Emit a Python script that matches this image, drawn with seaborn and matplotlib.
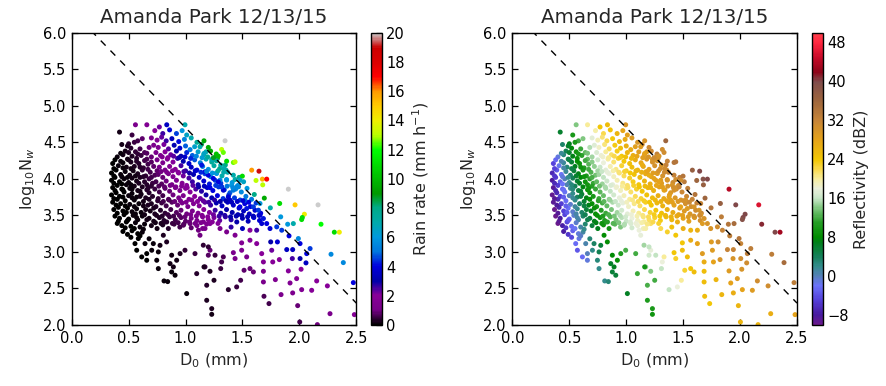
import numpy as np
import pandas as pd
import matplotlib
matplotlib.use("Agg")
import matplotlib.pyplot as plt
import seaborn as sns
from matplotlib.colors import LinearSegmentedColormap, Normalize
from matplotlib.cm import ScalarMappable

# ---------------- data ----------------
d0 = [
    # dense small-drop cluster
    0.42, 0.44, 0.53, 0.50, 0.58, 0.62,
    0.47, 0.52, 0.56, 0.60, 0.64, 0.68,
    0.40, 0.45, 0.49, 0.53, 0.57, 0.61, 0.66, 0.70,
    0.36, 0.41, 0.45, 0.48, 0.52, 0.55, 0.59, 0.63, 0.67, 0.72,
    0.35, 0.39, 0.43, 0.47, 0.51, 0.54, 0.58, 0.62, 0.65, 0.69, 0.73,
    0.35, 0.38, 0.42, 0.46, 0.50, 0.53, 0.57, 0.60, 0.64, 0.68, 0.71,
    0.36, 0.40, 0.44, 0.48, 0.51, 0.55, 0.58, 0.62, 0.66, 0.70,
    0.35, 0.39, 0.42, 0.46, 0.50, 0.53, 0.57, 0.61, 0.65, 0.68,
    0.36, 0.40, 0.43, 0.47, 0.51, 0.55, 0.59, 0.63, 0.67,
    0.37, 0.41, 0.45, 0.49, 0.53, 0.57, 0.61, 0.65,
    0.38, 0.42, 0.46, 0.50, 0.54, 0.58, 0.62,
    0.40, 0.44, 0.48, 0.52, 0.56, 0.60, 0.64,
    0.45, 0.49, 0.53, 0.58, 0.62,
    # main body
    0.56, 0.66, 0.77, 0.835, 0.995,
    0.73, 0.86, 0.80, 0.92, 1.01, 0.97,
    0.70, 0.75, 0.79, 0.83, 0.88, 0.94, 0.99, 1.05, 1.10,
    0.72, 0.76, 0.81, 0.85, 0.90, 0.95, 1.00, 1.04, 1.08, 1.14, 1.20,
    0.74, 0.78, 0.82, 0.87, 0.92, 0.96, 1.01, 1.06, 1.11, 1.16, 1.22, 1.27,
    0.75, 0.80, 0.84, 0.89, 0.93, 0.98, 1.03, 1.08, 1.13, 1.18, 1.23, 1.28,
    0.77, 0.82, 0.86, 0.91, 0.96, 1.00, 1.05, 1.10, 1.15, 1.20, 1.25, 1.30, 1.35,
    0.76, 0.80, 0.85, 0.89, 0.94, 0.98, 1.03, 1.07, 1.12, 1.17, 1.22, 1.27, 1.32, 1.37, 1.42, 1.47,
    0.74, 0.79, 0.83, 0.88, 0.92, 0.97, 1.01, 1.06, 1.11, 1.16, 1.21, 1.26, 1.31, 1.36, 1.41, 1.46, 1.51,
    0.73, 0.77, 0.82, 0.86, 0.91, 0.95, 1.00, 1.04, 1.09, 1.14, 1.19, 1.24, 1.29, 1.34, 1.39, 1.44, 1.49, 1.54,
    0.71, 0.76, 0.80, 0.85, 0.89, 0.94, 0.98, 1.03, 1.08, 1.13, 1.18, 1.23, 1.28, 1.33, 1.38, 1.43, 1.48, 1.53, 1.58,
    0.70, 0.74, 0.79, 0.83, 0.88, 0.93, 0.97, 1.02, 1.07, 1.12, 1.17, 1.22, 1.27, 1.32, 1.37, 1.42, 1.47, 1.52, 1.57, 1.62,
    0.69, 0.73, 0.78, 0.82, 0.87, 0.92, 0.96, 1.01, 1.06, 1.11, 1.16, 1.21, 1.26, 1.31, 1.36, 1.41, 1.46, 1.51, 1.56, 1.61, 1.66,
    0.68, 0.72, 0.77, 0.81, 0.86, 0.91, 0.96, 1.00, 1.05, 1.10, 1.15, 1.20, 1.25, 1.30, 1.35, 1.40, 1.45, 1.50, 1.55, 1.60, 1.65,
    0.70, 0.75, 0.80, 0.90, 0.95, 1.05, 1.10, 1.15, 1.40, 1.50,
    # lower sparse part, small drops
    0.571, 0.615, 0.659, 0.703, 0.761, 0.747, 0.761, 0.659, 0.878, 0.952, 0.995,
    0.922, 0.864, 0.893, 0.878, 0.908, 0.811, 0.843, 1.01, 1.098, 1.171, 1.2,
    1.215, 1.186, 1.186, 1.23, 1.23, 1.083, 0.834, 0.776, 0.717, 0.644, 0.585,
    0.556, 0.805, 0.849, 0.82, 0.981, 1.04, 1.113, 1.157, 1.171, 1.127, 1.215,
    # lower sparse part, large drops
    1.162, 1.215, 1.25, 1.376, 1.449, 1.484, 1.514, 1.566, 1.596, 1.684,
    1.684, 1.689, 1.733, 1.789, 1.839, 1.918, 1.941, 1.976, 1.985, 2.003,
    2.015, 2.02, 2.108, 2.152, 2.246, 2.269, 2.483, 2.158, 2.474, 2.386,
    2.278, 2.307, 2.351, 2.19, 1.991, 1.947, 1.897, 1.909, 2.006, 2.064,
    2.094, 2.058, 2.006, 1.938, 1.903, 1.824, 1.766, 1.889, 1.941, 1.807,
    1.748, 1.757, 1.669, 1.684, 1.625, 1.566, 1.537, 1.493, 1.42, 1.435,
    1.317, 1.309, 1.332, 1.259, 1.2, 1.156, 1.303, 1.361, 1.435, 1.566,
    1.493, 1.625, 1.742, 1.713, 1.669, 1.684, 1.801, 1.845,
    # upper edge, heavy rain
    1.347, 1.162, 1.317, 1.332, 1.268, 1.288, 1.361, 1.42, 1.435, 1.581,
    1.645, 1.499, 1.619, 1.675, 1.713, 1.678, 1.903, 1.604, 1.692, 1.827,
    1.962, 2.164, 1.745, 2.044, 1.836, 2.026, 2.02,
    # band along the dashed line
    1.127, 1.18, 1.162, 1.23, 1.244, 1.273, 1.309, 1.338, 1.356, 1.273,
    1.303, 1.361, 1.405, 1.435, 1.479, 1.449, 1.42, 1.142, 1.171, 1.2,
    1.244, 1.288, 1.317, 1.332, 1.376, 1.391, 1.478, 1.522, 1.537, 1.596,
    1.64, 1.654, 1.596, 1.654,
    # small-drop cluster, in-between points
    0.49, 0.55,
    0.43, 0.50, 0.58, 0.66,
    0.38, 0.43, 0.50, 0.57, 0.64, 0.70,
    0.37, 0.45, 0.52, 0.60, 0.67, 0.75,
    0.37, 0.44, 0.49, 0.56, 0.63, 0.70,
    0.37, 0.44, 0.52, 0.59, 0.66,
    0.38, 0.45, 0.53, 0.60, 0.67,
    0.37, 0.45, 0.53, 0.60, 0.68,
    0.39, 0.47, 0.55, 0.63, 0.72,
    0.40, 0.48, 0.56, 0.64,
    0.41, 0.49, 0.57, 0.66,
    0.47, 0.55, 0.63,
    0.52, 0.60, 0.68,
    # main body, in-between points
    0.795, 0.845, 0.895, 0.945, 0.995, 1.045, 1.095, 1.145, 1.195, 1.245,
    0.785, 0.835, 0.885, 0.935, 0.985, 1.035, 1.085, 1.135, 1.185, 1.235, 1.285, 1.335,
    0.765, 0.815, 0.865, 0.915, 0.965, 1.015, 1.065, 1.115, 1.165, 1.215, 1.265, 1.315, 1.365, 1.415, 1.465,
    0.755, 0.805, 0.855, 0.905, 0.955, 1.005, 1.055, 1.105, 1.155, 1.205, 1.255, 1.305, 1.355, 1.405, 1.455, 1.505, 1.555,
    0.745, 0.795, 0.845, 0.895, 0.945, 0.995, 1.045, 1.095, 1.145, 1.195, 1.245, 1.295, 1.345, 1.395, 1.445, 1.495, 1.545, 1.595, 1.645,
    0.735, 0.785, 0.835, 0.885, 0.935, 0.985, 1.035, 1.085, 1.135, 1.185, 1.235, 1.285,
]

log_nw = [
    4.64, 4.47, 4.60, 4.48, 4.52, 4.55,
    4.38, 4.42, 4.37, 4.41, 4.36, 4.43,
    4.30, 4.33, 4.27, 4.31, 4.28, 4.32, 4.27, 4.30,
    4.21, 4.18, 4.22, 4.16, 4.23, 4.17, 4.21, 4.15, 4.20, 4.17,
    4.08, 4.12, 4.06, 4.10, 4.05, 4.11, 4.07, 4.12, 4.04, 4.09, 4.05,
    3.98, 4.02, 3.96, 4.00, 3.95, 4.01, 3.97, 4.02, 3.96, 4.00, 3.94,
    3.88, 3.91, 3.86, 3.92, 3.87, 3.90, 3.84, 3.89, 3.85, 3.90,
    3.78, 3.81, 3.76, 3.82, 3.77, 3.80, 3.75, 3.79, 3.74, 3.81,
    3.68, 3.72, 3.66, 3.70, 3.65, 3.71, 3.66, 3.69, 3.64,
    3.58, 3.61, 3.56, 3.60, 3.55, 3.59, 3.54, 3.58,
    3.49, 3.46, 3.51, 3.45, 3.50, 3.44, 3.49,
    3.39, 3.36, 3.41, 3.35, 3.40, 3.34, 3.38,
    3.28, 3.24, 3.29, 3.25, 3.27,
    # main body
    4.74, 4.74, 4.71, 4.74, 4.74,
    4.66, 4.67, 4.62, 4.62, 4.60, 4.66,
    4.56, 4.53, 4.57, 4.52, 4.55, 4.51, 4.54, 4.56, 4.50,
    4.46, 4.43, 4.47, 4.41, 4.46, 4.42, 4.45, 4.40, 4.44, 4.47, 4.43,
    4.36, 4.32, 4.37, 4.33, 4.38, 4.31, 4.36, 4.32, 4.37, 4.33, 4.38, 4.34,
    4.26, 4.22, 4.27, 4.23, 4.28, 4.24, 4.21, 4.26, 4.22, 4.27, 4.23, 4.28,
    4.16, 4.12, 4.17, 4.13, 4.18, 4.11, 4.16, 4.12, 4.17, 4.13, 4.18, 4.14, 4.19,
    4.06, 4.02, 4.07, 4.03, 4.08, 4.04, 4.01, 4.06, 4.02, 4.07, 4.03, 4.08, 4.04, 4.09, 4.05, 4.02,
    3.96, 3.93, 3.97, 3.92, 3.98, 3.94, 3.91, 3.96, 3.92, 3.97, 3.93, 3.98, 3.94, 3.99, 3.95, 3.91, 3.96,
    3.86, 3.82, 3.87, 3.83, 3.88, 3.84, 3.87, 3.82, 3.86, 3.83, 3.88, 3.84, 3.89, 3.85, 3.81, 3.86, 3.82, 3.87,
    3.76, 3.73, 3.77, 3.72, 3.78, 3.74, 3.77, 3.72, 3.76, 3.73, 3.78, 3.74, 3.77, 3.73, 3.78, 3.74, 3.71, 3.76, 3.72,
    3.66, 3.62, 3.67, 3.63, 3.68, 3.64, 3.67, 3.62, 3.66, 3.63, 3.68, 3.64, 3.67, 3.63, 3.68, 3.64, 3.60, 3.66, 3.62, 3.67,
    3.56, 3.52, 3.57, 3.53, 3.58, 3.54, 3.57, 3.52, 3.56, 3.53, 3.58, 3.54, 3.57, 3.53, 3.58, 3.54, 3.51, 3.56, 3.52, 3.57, 3.53,
    3.46, 3.42, 3.47, 3.43, 3.48, 3.44, 3.47, 3.42, 3.46, 3.43, 3.48, 3.44, 3.47, 3.43, 3.48, 3.44, 3.41, 3.46, 3.42, 3.47, 3.43,
    3.36, 3.32, 3.37, 3.38, 3.34, 3.33, 3.36, 3.32, 3.34, 3.32,
    # lower sparse part, small drops
    3.023, 2.932, 2.977, 3.023, 3.0, 2.886, 2.772, 2.886, 2.955, 2.977, 3.023,
    2.886, 2.84, 2.795, 2.726, 2.681, 2.603, 2.594, 2.43, 2.703, 2.795, 2.955,
    3.023, 2.544, 2.338, 2.224, 2.146, 2.977, 3.137, 3.09, 3.114, 3.114, 3.183,
    3.114, 3.228, 3.32, 3.41, 3.366, 3.388, 3.297, 3.411, 3.32, 3.228, 3.388,
    # lower sparse part, large drops
    2.795, 2.735, 2.612, 2.484, 2.521, 2.612, 2.749, 2.772, 2.726, 2.735,
    2.589, 2.393, 2.293, 2.621, 2.416, 2.575, 2.439, 2.635, 2.265, 2.041,
    2.763, 2.484, 2.475, 2.603, 2.535, 2.155, 2.142, 2.005, 2.58, 2.854,
    2.968, 3.27, 3.27, 3.379, 3.183, 3.388, 3.379, 3.22, 3.114, 2.977,
    3.046, 2.85, 2.909, 2.909, 2.74, 2.895, 2.863, 3.032, 3.032, 3.137,
    3.137, 3.023, 2.977, 2.863, 3.114, 3.16, 2.932, 3.023, 2.99, 2.909,
    2.863, 2.772, 2.932, 2.955, 3.069, 3.092, 3.32, 3.274, 3.229, 3.297,
    3.124, 3.297, 3.32, 3.388, 3.388, 3.457, 3.343, 3.297,
    # upper edge, heavy rain
    4.521, 4.521, 4.402, 4.361, 4.302, 4.311, 4.242, 4.224, 4.233, 4.119,
    4.105, 4.037, 3.978, 3.996, 3.996, 3.918, 3.859, 3.786, 3.736, 3.663,
    3.644, 3.644, 3.603, 3.516, 3.48, 3.471, 3.443,
    # band along the dashed line
    4.439, 4.37, 4.347, 4.265, 4.256, 4.247, 4.188, 4.142, 4.119, 4.073,
    3.982, 3.982, 3.914, 3.991, 3.982, 3.891, 3.845, 4.188, 4.096, 4.05,
    4.005, 3.959, 3.891, 3.845, 3.754, 3.708, 3.617, 3.708, 3.594, 3.617,
    3.571, 3.503, 3.48, 3.663,
    # small-drop cluster, in-between points
    4.45, 4.50,
    4.35, 4.36, 4.34, 4.35,
    4.26, 4.24, 4.26, 4.24, 4.25, 4.23,
    4.14, 4.15, 4.14, 4.16, 4.13, 4.11,
    4.04, 4.03, 4.02, 4.04, 4.03, 4.02,
    3.94, 3.93, 3.92, 3.94, 3.92,
    3.84, 3.85, 3.86, 3.83, 3.87,
    3.73, 3.75, 3.74, 3.76, 3.72,
    3.64, 3.63, 3.62, 3.63, 3.60,
    3.53, 3.54, 3.52, 3.51,
    3.42, 3.43, 3.47, 3.44,
    3.33, 3.32, 3.31,
    3.20, 3.22, 3.18,
    # main body, in-between points
    4.30, 4.29, 4.31, 4.29, 4.30, 4.28, 4.31, 4.29, 4.30, 4.29,
    4.10, 4.09, 4.11, 4.09, 4.10, 4.08, 4.11, 4.09, 4.10, 4.08, 4.11, 4.09,
    3.90, 3.89, 3.91, 3.89, 3.90, 3.88, 3.91, 3.89, 3.90, 3.88, 3.91, 3.89, 3.90, 3.88, 3.89,
    3.70, 3.69, 3.71, 3.69, 3.70, 3.68, 3.71, 3.69, 3.70, 3.68, 3.71, 3.69, 3.70, 3.68, 3.69, 3.70, 3.68,
    3.50, 3.49, 3.51, 3.49, 3.50, 3.48, 3.51, 3.49, 3.50, 3.48, 3.51, 3.49, 3.50, 3.48, 3.49, 3.50, 3.48, 3.49, 3.50,
    3.40, 3.39, 3.41, 3.39, 3.40, 3.38, 3.41, 3.39, 3.40, 3.38, 3.41, 3.39,
]

rain_rate = [
    0.2, 0.18, 0.5, 0.32, 0.6, 0.84,
    0.2, 0.33, 0.42, 0.58, 0.68, 0.98,
    0.09, 0.16, 0.2, 0.3, 0.37, 0.53, 0.66, 0.88,
    0.05, 0.08, 0.13, 0.16, 0.24, 0.27, 0.38, 0.45, 0.62, 0.8,
    0.03, 0.06, 0.08, 0.13, 0.16, 0.23, 0.28, 0.4, 0.42, 0.6, 0.68,
    0.03, 0.04, 0.06, 0.1, 0.13, 0.17, 0.22, 0.3, 0.34, 0.47, 0.5,
    0.02, 0.05, 0.065, 0.1, 0.12, 0.17, 0.19, 0.27, 0.33, 0.44,
    0.02, 0.03, 0.04, 0.07, 0.09, 0.12, 0.15, 0.21, 0.25, 0.34,
    0.02, 0.03, 0.04, 0.06, 0.08, 0.12, 0.15, 0.2, 0.24,
    0.01, 0.02, 0.03, 0.06, 0.08, 0.11, 0.14, 0.19,
    0.01, 0.02, 0.03, 0.05, 0.08, 0.09, 0.14,
    0.01, 0.02, 0.03, 0.04, 0.08, 0.09, 0.12,
    0.02, 0.02, 0.03, 0.05, 0.09,
    # main body
    1.3, 1.6, 2.2, 3.5, 7,
    1.96, 3.8, 2.6, 4.6, 6.5, 6.0,
    1.39, 1.75, 2.3, 2.6, 3.4, 4.1, 5.4, 7.0, 7.6,
    1.31, 1.52, 2.15, 2.35, 3.2, 3.7, 4.8, 5.2, 6.4, 8.4, 9.6,
    1.24, 1.42, 1.9, 2.25, 3.0, 3.2, 4.3, 4.8, 6.4, 7.1, 9.4, 10.3,
    1.09, 1.31, 1.75, 2.05, 2.7, 3.1, 3.6, 4.7, 5.2, 6.8, 7.5, 9.6,
    1.02, 1.22, 1.63, 1.9, 2.56, 2.67, 3.5, 4.0, 5.2, 5.8, 7.3, 8.0, 8.0,
    0.81, 0.93, 1.3, 1.45, 1.97, 2.2, 2.5, 3.2, 3.6, 4.6, 5.1, 6.6, 7.1, 7, 7, 8,
    0.62, 0.76, 1.0, 1.15, 1.52, 1.75, 1.96, 2.6, 2.9, 3.8, 4.2, 4.5, 4.5, 5.5, 6, 6, 6.5,
    0.49, 0.57, 0.79, 0.9, 1.23, 1.36, 1.75, 1.89, 2.45, 2.75, 3.6, 4.0, 4.5, 4.5, 4.8, 5.5, 5.5, 6,
    0.37, 0.46, 0.6, 0.71, 0.95, 1.1, 1.37, 1.52, 2.0, 2.25, 2.9, 3.2, 4.0, 4.4, 4.5, 4.5, 4.5, 5, 5,
    0.29, 0.35, 0.48, 0.55, 0.76, 0.88, 1.1, 1.23, 1.6, 1.83, 2.35, 2.6, 3.2, 3.5, 3.5, 3.6, 3.7, 4.0, 4.0, 4.5,
    0.23, 0.28, 0.39, 0.44, 0.61, 0.71, 0.9, 1.0, 1.3, 1.5, 1.9, 2.1, 2.6, 2.9, 3.0, 3.1, 3.2, 3.4, 3.5, 3.8, 4.0,
    0.19, 0.22, 0.31, 0.35, 0.49, 0.58, 0.75, 0.81, 1.05, 1.2, 1.57, 1.75, 2.15, 2.3, 2.6, 2.8, 3.0, 3.2, 3.3, 3.6, 3.8,
    0.17, 0.21, 0.3, 0.5, 0.57, 0.85, 1.08, 1.18, 2.7, 3.4,
    # lower sparse part, small drops
    0.04, 0.05, 0.07, 0.1, 0.13, 0.1, 0.08, 0.06, 0.21, 0.31, 0.41,
    0.23, 0.17, 0.17, 0.14, 0.15, 0.09, 0.09, 0.15, 0.34, 0.5, 0.76,
    0.9, 0.36, 0.25, 0.24, 0.2, 0.52, 0.24, 0.17, 0.13, 0.08, 0.06,
    0.05, 0.24, 0.36, 0.36, 0.68, 0.9, 1.0, 1.4, 1.27, 0.94, 1.7,
    # lower sparse part, large drops
    0.25, 0.25, 0.25, 0.35, 0.5, 0.6, 0.8, 0.9, 0.9, 1.3,
    1.2, 0.7, 0.6, 1.5, 1.3, 1.6, 1.4, 1.8, 0.9, 0.6,
    2.0, 1.6, 1.8, 2.0, 2.0, 1.2, 1.8, 1.0, 4, 5.5,
    5.5, 11, 14, 12, 5.5, 7, 6, 4, 4, 4,
    4.5, 3.5, 3, 2.5, 2, 2, 1.8, 3.5, 3.5, 3.8,
    3.0, 2.2, 2.0, 1.7, 2.0, 1.8, 1.3, 1.5, 1.2, 1.1,
    0.6, 0.5, 0.7, 0.5, 0.4, 0.4, 1.2, 1.3, 1.5, 2.0,
    1.6, 2.5, 3.8, 4, 3.8, 4.2, 4.5, 4.5,
    # upper edge, heavy rain
    20, 9.5, 13, 12.5, 10, 10, 11, 12.5, 13, 16,
    19, 11, 13, 15.5, 17, 13, 20, 8, 9.5, 11,
    15, 20, 7, 14, 6, 11, 11,
    # band along the dashed line
    7, 7, 6.5, 7, 7, 7.5, 7, 7, 7, 6,
    5.5, 6, 6, 7, 6.5, 5.5, 5, 4.2, 4, 4,
    4, 4, 3.8, 3.8, 3.7, 3.6, 4, 5, 4.2, 4.5,
    4.5, 4, 4, 6,
    # small-drop cluster, in-between points
    0.28, 0.47,
    0.14, 0.26, 0.44, 0.76,
    0.07, 0.11, 0.22, 0.35, 0.57, 0.78,
    0.05, 0.12, 0.2, 0.37, 0.55, 0.84,
    0.04, 0.09, 0.13, 0.23, 0.36, 0.55,
    0.04, 0.07, 0.14, 0.24, 0.36,
    0.03, 0.07, 0.14, 0.21, 0.35,
    0.03, 0.06, 0.11, 0.19, 0.29,
    0.03, 0.06, 0.1, 0.18, 0.3,
    0.03, 0.05, 0.09, 0.16,
    0.02, 0.05, 0.09, 0.16,
    0.03, 0.06, 0.1,
    0.04, 0.07, 0.11,
    # main body, in-between points
    1.47, 1.9, 2.4, 2.9, 3.6, 4.3, 5.4, 6.2, 7.5, 8.8,
    0.99, 1.27, 1.63, 1.96, 2.5, 2.9, 3.7, 4.3, 5.2, 5.9, 7.3, 7,
    0.63, 0.82, 1.03, 1.3, 1.6, 1.96, 2.4, 2.9, 3.4, 4.0, 4.5, 4.5, 5, 5.5, 5.5,
    0.43, 0.55, 0.7, 0.88, 1.1, 1.34, 1.63, 1.96, 2.3, 2.5, 2.8, 3.0, 3.2, 3.4, 3.6, 3.8, 4.0,
    0.29, 0.37, 0.47, 0.6, 0.74, 0.91, 1.1, 1.34, 1.6, 1.9, 2.2, 2.6, 2.8, 3.0, 3.1, 3.2, 3.3, 3.4, 3.6,
    0.23, 0.3, 0.38, 0.48, 0.6, 0.74, 0.9, 1.08, 1.3, 1.54, 1.8, 2.1,
]

reflectivity = [
    6, 3.5, 10, 7, 12, 14,
    4.5, 7.7, 9.3, 11.7, 13, 15.4,
    -0.9, 2.7, 4.6, 7.2, 8.9, 11.2, 13, 14.9,
    -4.7, -1.4, 1.6, 2.9, 5.8, 6.8, 9.2, 10.4, 12.7, 14.4,
    -6.8, -3.4, -1.8, 1.7, 3.5, 5.7, 7.3, 9.7, 10.2, 12.4, 13.6,
    -8.2, -5.1, -3.1, 0.1, 1.9, 4.2, 5.8, 7.8, 9, 11.1, 11.7,
    -9, -5.2, -2.6, 0.5, 1.7, 4.1, 5, 7.4, 8.8, 10.9,
    -9.5, -6.5, -4.9, -1.7, 0.1, 2.1, 3.6, 5.9, 7.2, 9.2,
    -9, -6.7, -5.2, -2.3, -0.5, 2.2, 3.7, 5.8, 7.1,
    -9.8, -7.1, -5, -2.1, -0.4, 2, 3.4, 5.6,
    -9.8, -8.1, -4.8, -2.9, -0.4, 1, 3.4,
    -9.9, -7.6, -4.6, -2.5, -0.4, 1, 3.2,
    -7.8, -5.7, -3, -0.9, 1.2,
    # main body
    14, 20, 24, 25, 30,
    19.7, 24.4, 21.9, 25.9, 28.3, 27.7,
    17.5, 19.2, 21, 21.9, 23.9, 25.4, 27.1, 29, 29.7,
    17.3, 18.6, 20.8, 21.5, 23.6, 24.8, 26.5, 27.1, 28.6, 30.4, 31.4,
    17.1, 18.2, 20.1, 21.4, 23.5, 24, 25.9, 26.9, 28.7, 29.5, 31.4, 32.2,
    16.5, 17.9, 19.8, 21, 22.8, 23.8, 24.9, 26.8, 27.7, 29.4, 30.2, 31.8,
    16.2, 17.6, 19.4, 20.6, 22.7, 23.1, 25, 25.9, 27.7, 28.4, 30.1, 30.8, 32.4,
    14.9, 15.9, 18.1, 19, 21, 21.8, 22.9, 24.5, 25.4, 27.1, 27.9, 29.6, 30.2, 31.8, 32.4, 33.1,
    13.1, 14.7, 16.4, 17.6, 19.5, 20.5, 21.4, 23.3, 24.2, 25.9, 26.7, 28.3, 29, 30.6, 31.2, 31.8, 33.2,
    11.7, 12.8, 15.1, 16, 18.1, 19, 20.7, 21.3, 23, 24, 25.7, 26.5, 28.1, 28.8, 29.4, 30.9, 31.5, 32.9,
    9.9, 11.6, 13.4, 14.6, 16.5, 17.7, 19.1, 20, 21.8, 22.8, 24.5, 25.3, 26.7, 27.4, 28.9, 29.6, 30.1, 31.6, 32.1,
    8.5, 9.7, 12, 13, 15.2, 16.4, 17.8, 18.8, 20.5, 21.5, 23.2, 24, 25.5, 26.1, 27.7, 28.3, 28.9, 30.4, 30.9, 32.3,
    7.1, 8.3, 10.7, 11.7, 13.9, 15, 16.6, 17.5, 19.3, 20.3, 22, 22.8, 24.2, 24.9, 26.5, 27.1, 27.8, 29.2, 29.7, 31.2, 31.6,
    5.7, 6.9, 9.3, 10.4, 12.5, 13.7, 15.6, 16.2, 18, 19, 20.8, 21.5, 23, 23.7, 25.3, 25.9, 26.6, 28, 28.6, 30, 30.4,
    5.5, 7.1, 9.4, 12.8, 14, 16.7, 18.3, 19.2, 24.9, 26.6,
    # lower sparse part, small drops
    -3.6, -2.4, 0, 2.3, 4.3, 2.7, 2, -0.9, 7.9, 10.4, 12.2,
    8.6, 6.3, 6.8, 5.6, 5.6, 2.1, 3.1, 6.6, 11.6, 14.4, 16.7,
    17.7, 12.2, 10.2, 10, 9.3, 12, 8.3, 5.7, 3.7, 0.7, -1.3,
    -2.5, 8.2, 9.6, 10.5, 15.2, 17, 18, 20.2, 19.6, 17.7, 21.4,
    # lower sparse part, large drops
    10, 14, 12, 16, 18, 20, 23, 24, 25, 25,
    25, 25, 24, 26, 26, 28, 27, 29, 26, 26,
    30, 28, 29, 31, 31, 27, 28, 26, 33, 35,
    33, 40, 43, 41, 34, 35, 34, 33, 32, 33,
    33, 31, 31, 30, 29, 30, 28, 32, 32, 31,
    29, 29, 29, 27, 28, 27, 25, 25, 24, 23,
    18, 16, 20, 16, 16, 15, 22, 23, 24, 26,
    24, 27, 30, 30, 29, 30, 31, 32,
    # upper edge, heavy rain
    36, 30, 31, 31, 30, 30, 32, 34, 34, 37,
    40, 34, 36, 39, 40, 37, 44, 34, 36, 37,
    40, 46, 34, 40, 33, 40, 39,
    # band along the dashed line
    29, 29, 28, 30, 30, 30, 30, 31, 31, 29,
    29, 30, 30, 31, 31, 30, 30, 27, 27, 27,
    28, 28, 28, 28, 28, 28, 28, 30, 29, 30,
    30, 29, 29, 32,
    # small-drop cluster, in-between points
    6.4, 10.1,
    1.7, 6, 10, 13.8,
    -2.7, 0.6, 5, 8.5, 11.9, 14.2,
    -4.7, 0.9, 4.9, 9.2, 12, 15,
    -5.7, -0.9, 2.1, 6, 9.2, 12.1,
    -6.7, -1.9, 2.7, 6.5, 9.5,
    -6.9, -2.1, 2.7, 5.9, 9.4,
    -8.8, -3.1, 1.5, 5.2, 8.3,
    -8.2, -3, 1.3, 5.2, 8.7,
    -8.6, -3.3, 0.8, 4.5,
    -9, -3.8, 0.8, 4.7,
    -6, -1.7, 2,
    -4.5, -0.2, 2.9,
    # main body, in-between points
    18.5, 20.2, 22, 23.3, 24.9, 26, 27.7, 28.7, 30, 31.1,
    16.2, 17.8, 19.7, 21, 22.6, 23.8, 25.4, 26.5, 27.8, 28.8, 30.2, 31.1,
    13.5, 15.1, 17, 18.4, 20, 21.2, 22.9, 24, 25.3, 26.3, 27.7, 28.6, 29.8, 30.6, 31.7,
    11.1, 12.8, 14.7, 16.1, 17.7, 18.9, 20.6, 21.7, 23.1, 24.1, 25.5, 26.4, 27.6, 28.4, 29.5, 30.5, 31.3,
    8.7, 10.4, 12.4, 13.8, 15.4, 16.7, 18.3, 19.5, 20.8, 21.8, 23.3, 24.2, 25.4, 26.2, 27.3, 28.4, 29.1, 30.1, 31.1,
    7.3, 9.1, 11, 12.5, 14.1, 15.4, 17.1, 18.2, 19.6, 20.6, 22.1, 23,
]

# separation line  log10(Nw) = 6.3 - 1.6 D0
line_d0 = [0.0, 2.5]
line_lognw = [6.3, 2.3]

title = "Amanda Park 12/13/15"
x_ticks = [0.0, 0.5, 1.0, 1.5, 2.0, 2.5]
y_ticks = [2.0, 2.5, 3.0, 3.5, 4.0, 4.5, 5.0, 5.5, 6.0]
rain_ticks = [0, 2, 4, 6, 8, 10, 12, 14, 16, 18, 20]
refl_ticks = [-8, 0, 8, 16, 24, 32, 40, 48]

# --------------------------------------------------------------------------
n = len(d0)
assert len(log_nw) == n and len(rain_rate) == n and len(reflectivity) == n, (
    len(d0), len(log_nw), len(rain_rate), len(reflectivity))

df = pd.DataFrame({"d0": d0, "lognw": log_nw, "rain": rain_rate, "refl": reflectivity})

sns.set_style("ticks")
plt.rcParams.update({
    "font.family": ["DejaVu Sans"],
    "xtick.direction": "in", "ytick.direction": "in",
    "xtick.top": True, "ytick.right": True,
    "xtick.major.size": 4, "ytick.major.size": 4,
    "xtick.major.width": 0.9, "ytick.major.width": 0.9,
    "axes.linewidth": 1.0, "axes.edgecolor": "black",
    "xtick.color": "black", "ytick.color": "black",
    "mathtext.default": "regular",
})

refl_cmap = LinearSegmentedColormap.from_list("refl", [
    (0.0000, (0.42, 0.10, 0.55)),
    (0.0333, (0.28, 0.10, 0.62)),
    (0.0833, (0.33, 0.25, 0.85)),
    (0.1333, (0.42, 0.45, 0.98)),
    (0.1667, (0.33, 0.50, 0.72)),
    (0.2000, (0.20, 0.55, 0.55)),
    (0.2333, (0.08, 0.50, 0.35)),
    (0.2833, (0.00, 0.50, 0.10)),
    (0.3000, (0.00, 0.55, 0.00)),
    (0.3500, (0.15, 0.62, 0.15)),
    (0.4000, (0.50, 0.78, 0.50)),
    (0.4333, (0.78, 0.90, 0.78)),
    (0.4667, (0.92, 0.94, 0.86)),
    (0.5000, (0.97, 0.93, 0.62)),
    (0.5333, (0.98, 0.85, 0.30)),
    (0.5667, (0.95, 0.78, 0.02)),
    (0.6333, (0.90, 0.64, 0.10)),
    (0.7000, (0.78, 0.52, 0.22)),
    (0.7667, (0.62, 0.40, 0.24)),
    (0.8333, (0.50, 0.30, 0.30)),
    (0.8667, (0.55, 0.02, 0.10)),
    (0.9167, (0.78, 0.04, 0.16)),
    (0.9667, (1.00, 0.15, 0.25)),
    (1.0000, (1.00, 0.25, 0.30)),
])
rain_cmap = plt.get_cmap("nipy_spectral")
rain_norm = Normalize(0, 20)
refl_norm = Normalize(-10, 50)

W, H = 886.0, 386.0
fig = plt.figure(figsize=(W / 100, H / 100), dpi=100)
ax_bottom = 1 - 325.0 / H
ax_height = (325.0 - 32.7) / H
ax_w = 284.6 / W
ax1 = fig.add_axes([71.7 / W, ax_bottom, ax_w, ax_height])
cax1 = fig.add_axes([371.0 / W, ax_bottom, 10.5 / W, ax_height])
ax2 = fig.add_axes([512.4 / W, ax_bottom, ax_w, ax_height])
cax2 = fig.add_axes([812.0 / W, ax_bottom, 10.5 / W, ax_height])

tick_fs = 10.5
label_fs = 11.5

for ax, hue, cmap, norm in [(ax1, "rain", rain_cmap, rain_norm),
                            (ax2, "refl", refl_cmap, refl_norm)]:
    sns.scatterplot(data=df, x="d0", y="lognw", hue=hue, palette=cmap,
                    hue_norm=norm, s=13, linewidth=0, legend=False, ax=ax)
    ax.plot(line_d0, line_lognw, color="black", linestyle="--",
            dashes=(5, 5), linewidth=1.0)
    ax.set_xlim(0, 2.5)
    ax.set_ylim(2.0, 6.0)
    ax.set_xticks(x_ticks)
    ax.set_yticks(y_ticks)
    ax.set_xticklabels([f"{v:.1f}" for v in x_ticks], fontsize=tick_fs)
    ax.set_yticklabels([f"{v:.1f}" for v in y_ticks], fontsize=tick_fs)
    ax.tick_params(axis="both", which="major", pad=4)
    ax.set_xlabel(r"D$_0$ (mm)", fontsize=label_fs)
    ax.set_ylabel(r"log$_{10}$N$_{\mathit{w}}$", fontsize=label_fs)
    ax.set_title(title, fontsize=14.3, pad=7)
    for sp in ax.spines.values():
        sp.set_visible(True)
        sp.set_linewidth(1.0)

cb1 = fig.colorbar(ScalarMappable(norm=rain_norm, cmap=rain_cmap), cax=cax1,
                   ticks=rain_ticks)
cb1.set_label(r"Rain rate (mm h$^{-1}$)", fontsize=label_fs)
cb2 = fig.colorbar(ScalarMappable(norm=refl_norm, cmap=refl_cmap), cax=cax2,
                   ticks=refl_ticks)
cb2.set_label("Reflectivity (dBZ)", fontsize=label_fs)
for cb in (cb1, cb2):
    cb.ax.tick_params(labelsize=tick_fs, direction="in", length=4, width=0.9)
    cb.outline.set_linewidth(1.0)
    cb.outline.set_edgecolor("black")

fig.savefig("out.png", dpi=100, facecolor="white")
